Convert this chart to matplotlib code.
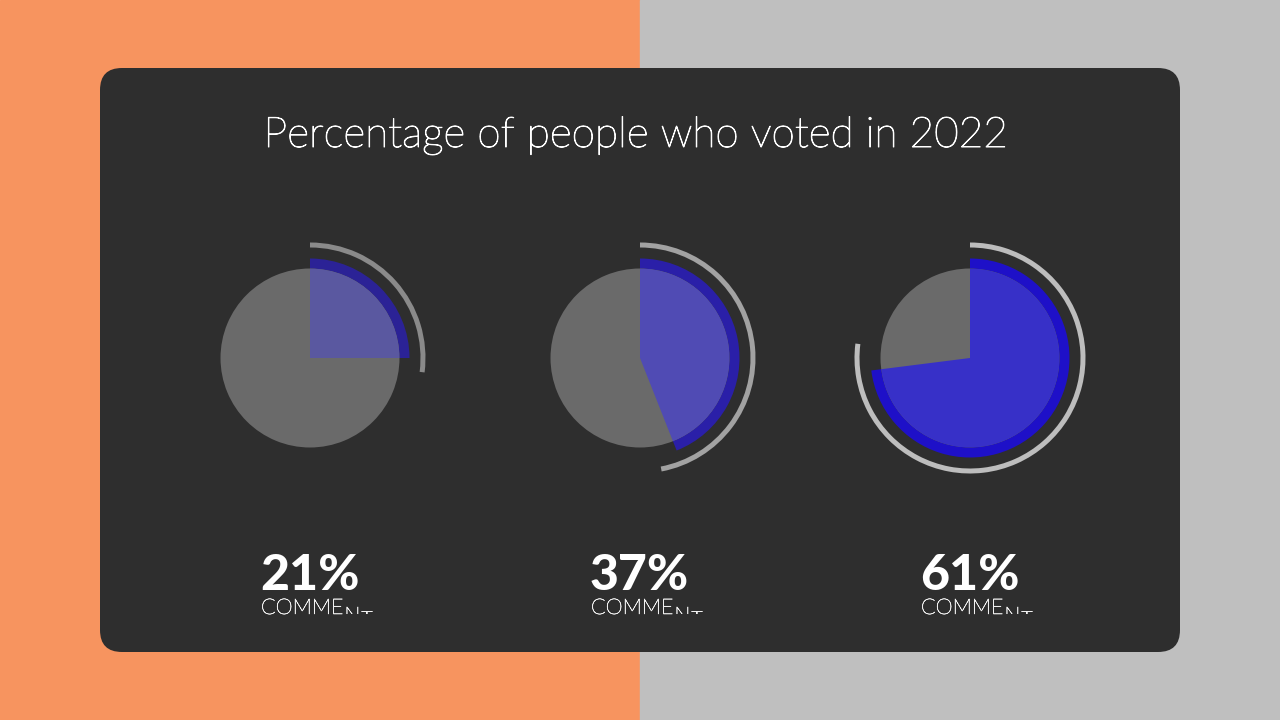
import matplotlib
matplotlib.use("Agg")
import matplotlib.pyplot as plt
import matplotlib.patheffects as pe
from matplotlib.patches import Rectangle, FancyBboxPatch
from matplotlib.transforms import Bbox, TransformedBbox

# ---- data (frame is mid-animation) ----
title = "Percentage of people who voted in 2022"
pct_labels = [21, 37, 61]              # printed values
wedge_share = [0.25, 0.44, 0.73]       # blue wedge share currently drawn
arc_share = [0.27, 0.47, 0.77]         # outer grey arc share currently drawn
caption = "COMMENT"

# ---- styles ----
pie_centers_px = [(310, 358), (640, 358), (970, 358)]
inner_colors = ["#5A58A0", "#504BB4", "#3730C8"]
ring_colors = ["#2B2296", "#2A1FA8", "#1E10C8"]
arc_colors = ["#8A8A8A", "#A2A2A2", "#BDBDBD"]
grey_pie = "#6A6A6A"
panel_col = "#2E2E2E"

W, H = 1280, 720
fig = plt.figure(figsize=(12.8, 7.2), dpi=100)
bg = fig.add_axes([0, 0, 1, 1])
bg.set_xlim(0, W)
bg.set_ylim(H, 0)
bg.axis("off")
bg.add_patch(Rectangle((0, 0), 640, H, color="#F7945F", zorder=0))
bg.add_patch(Rectangle((640, 0), 640, H, color="#BFBFBF", zorder=0))
bg.add_patch(FancyBboxPatch((100 + 22, 68 + 22), 1080 - 44, 584 - 44,
                            boxstyle="round,pad=22", fc=panel_col, ec="none", zorder=1))

thick = [pe.withStroke(linewidth=0.7, foreground="white")]
bg.text(636, 147, title, ha="center", va="baseline", color="white",
        fontsize=30.5, family="Lato", fontweight="light", zorder=3,
        path_effects=thick)

half = 130  # px half-size of each pie axes; 1 data unit = 100 px
for i, (cx, cy) in enumerate(pie_centers_px):
    ax = fig.add_axes([(cx - half) / W, (H - cy - half) / H, 2 * half / W, 2 * half / H])
    # full grey pie
    ax.pie([1], radius=0.895, colors=[grey_pie], startangle=90,
           wedgeprops=dict(linewidth=0))
    # blue outer ring part of wedge
    ax.pie([wedge_share[i], 1 - wedge_share[i]], radius=0.995,
           colors=[ring_colors[i], "none"], startangle=90, counterclock=False,
           wedgeprops=dict(width=0.10, linewidth=0))
    # blue interior of wedge
    ax.pie([wedge_share[i], 1 - wedge_share[i]], radius=0.895,
           colors=[inner_colors[i], "none"], startangle=90, counterclock=False,
           wedgeprops=dict(linewidth=0))
    # outer grey arc
    ax.pie([arc_share[i], 1 - arc_share[i]], radius=1.155,
           colors=[arc_colors[i], "none"], startangle=90, counterclock=False,
           wedgeprops=dict(width=0.05, linewidth=0))
    ax.set_xlim(-1.3, 1.3)
    ax.set_ylim(-1.3, 1.3)
    ax.set_aspect("equal")
    ax.axis("off")

fig.canvas.draw()
renderer = fig.canvas.get_renderer()
cap_fx = [pe.withStroke(linewidth=0.4, foreground="#F0F0F0")]
for i, (cx, cy) in enumerate(pie_centers_px):
    x0 = cx - 49
    bg.text(x0 - 1, 590, f"{pct_labels[i]}%", ha="left", va="baseline", color="white",
            fontsize=36, family="Lato", fontweight="black", zorder=3)
    t = bg.text(x0, 614, caption[:5], ha="left", va="baseline", color="#F0F0F0",
                fontsize=15.5, family="Lato", fontweight="light", zorder=3,
                path_effects=cap_fx)
    bb = t.get_window_extent(renderer)
    x_data = bg.transData.inverted().transform((bb.x1, 0))[0]
    # letters still sliding up from below the baseline (animation)
    clip = TransformedBbox(Bbox([[x_data, 560], [x_data + 40, 614]]), bg.transData)
    n = bg.text(x_data + 1, 614 + 8, caption[5], ha="left", va="baseline", color="#F0F0F0",
                fontsize=15.5, family="Lato", fontweight="light", zorder=3,
                path_effects=cap_fx)
    n.set_clip_box(clip)
    n.set_clip_on(True)
    tt = bg.text(x_data + 17, 614 + 12, caption[6], ha="left", va="baseline", color="#F0F0F0",
                 fontsize=15.5, family="Lato", fontweight="light", zorder=3,
                 path_effects=cap_fx)
    tt.set_clip_box(clip)
    tt.set_clip_on(True)

fig.savefig("out.png", dpi=100, facecolor=fig.get_facecolor())
